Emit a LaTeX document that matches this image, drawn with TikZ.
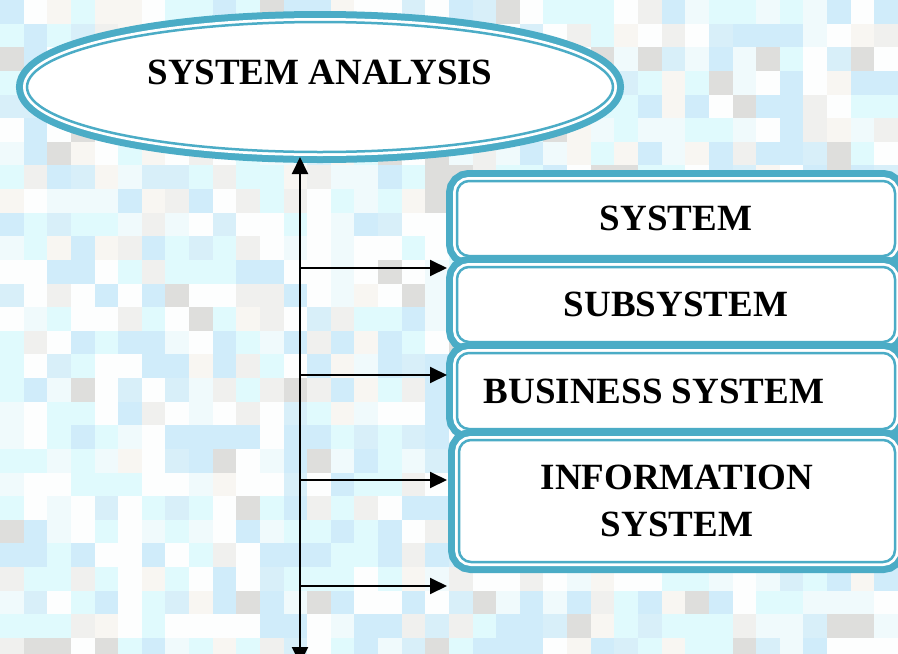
\documentclass[tikz,border=0pt]{standalone}
\usepackage{fontspec}
\setmainfont{Liberation Serif}
\usetikzlibrary{arrows.meta,shapes.geometric}

\definecolor{frame}{RGB}{75,172,198}
\definecolor{tile1}{RGB}{224,250,253}
\definecolor{tile2}{RGB}{208,236,250}
\definecolor{tile3}{RGB}{253,254,254}
\definecolor{tile4}{RGB}{240,240,238}
\definecolor{tile5}{RGB}{248,246,242}
\definecolor{tile6}{RGB}{222,222,220}
\definecolor{tile7}{RGB}{216,239,249}
\definecolor{tile8}{RGB}{240,250,252}

\begin{document}
\begin{tikzpicture}[x=1pt,y=-1pt]
            \tikzset{dbl/.style = {draw=frame, line width=2.5pt, fill=white,
                preaction={draw=frame, line width=22pt},
                preaction={draw=white, line width=8pt}}}
            \tikzset{oval/.style = {dbl, shape=ellipse, inner sep=0pt,
                minimum width=586pt, minimum height=130pt}}
            \tikzset{block/.style = {dbl, rounded corners=12pt, inner sep=0pt,
                minimum width=438pt, minimum height=75pt, align=center}}
            \tikzset{label/.style = {font=\fontsize{37}{47}\selectfont\bfseries}}
            \tikzset{arrow/.style = {draw=black, line width=2pt, -{Triangle[length=17pt,width=16pt]}}}
            \useasboundingbox (0,0) rectangle (898,654);
            \clip (0,0) rectangle (898,654);
            % background
            \pgfmathsetseed{11}
            \pgfmathdeclarerandomlist{tiles}{{tile1}{tile1}{tile1}{tile2}{tile2}{tile3}{tile3}{tile3}{tile7}{tile8}{tile8}{tile4}{tile5}{tile6}}
            \foreach \i in {0,...,37}
                \foreach \j in {0,...,27} {
                    \pgfmathrandomitem{\k}{tiles}
                    \fill[\k] (\i*23.63,\j*23.63) rectangle ++(23.7,23.7);
                }
            % nodes
            \node[oval, label, text height=25pt, text depth=31pt] (analysis) at (320,87) {SYSTEM ANALYSIS};
            \node[block, label] (system) at (676,218.5) {SYSTEM};
            \node[block, label] (subsystem) at (676,304.5) {SUBSYSTEM};
            \node[block, label, minimum height=76pt] (business) at (676,391) {BUSINESS SYSTEM\hspace*{44pt}};
            \node[block, label, minimum width=436pt, minimum height=122pt] (information) at (677,501) {INFORMATION\\SYSTEM};
            % spine
            \coordinate (top) at (300,157);
            \coordinate (bottom) at (300,664);
            \coordinate (h1) at (300,268);
            \coordinate (h2) at (300,375);
            \coordinate (h3) at (300,480);
            \coordinate (h4) at (300,586);
            \coordinate (e1) at (447,268);
            \coordinate (e2) at (447,375);
            \coordinate (e3) at (447,480);
            \coordinate (e4) at (447,586);
            % arrows
            \draw[arrow, {Triangle[length=17pt,width=16pt]}-{Triangle[length=17pt,width=16pt]}] (top) to (bottom);
            \draw[arrow] (h1) to (e1);
            \draw[arrow] (h2) to (e2);
            \draw[arrow] (h3) to (e3);
            \draw[arrow] (h4) to (e4);
\end{tikzpicture}
\end{document}
